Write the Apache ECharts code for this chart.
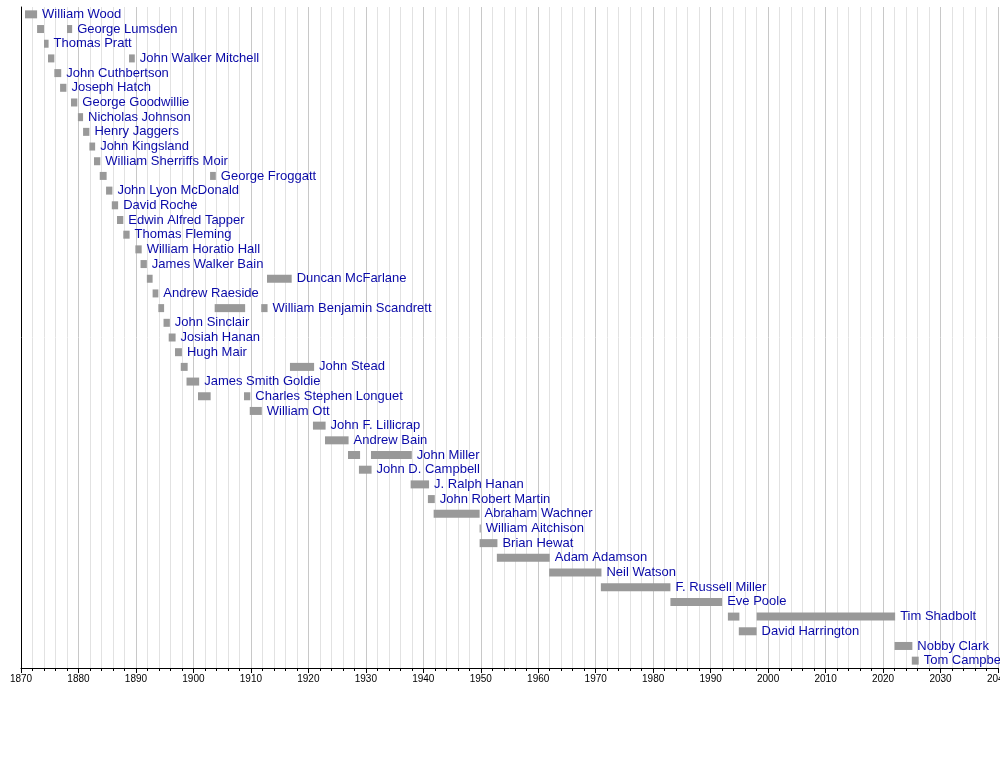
<!DOCTYPE html>
<html>
<head>
<meta charset="utf-8">
<script src="https://cdn.jsdelivr.net/npm/echarts@6/dist/echarts.min.js"></script>
<style>
  html, body { margin: 0; padding: 0; background: #fff; }
  #chart { width: 1000px; height: 770px; }
</style>
</head>
<body>
<div id="chart"></div>
<script>
// one row per line of the timeline, label drawn after the last term
const names = [
  'William Wood', 'George Lumsden', 'Thomas Pratt', 'John Walker Mitchell',
  'John Cuthbertson', 'Joseph Hatch', 'George Goodwillie', 'Nicholas Johnson',
  'Henry Jaggers', 'John Kingsland', 'William Sherriffs Moir', 'George Froggatt',
  'John Lyon McDonald', 'David Roche', 'Edwin Alfred Tapper', 'Thomas Fleming',
  'William Horatio Hall', 'James Walker Bain', 'Duncan McFarlane', 'Andrew Raeside',
  'William Benjamin Scandrett', 'John Sinclair', 'Josiah Hanan', 'Hugh Mair',
  'John Stead', 'James Smith Goldie', 'Charles Stephen Longuet', 'William Ott',
  'John F. Lillicrap', 'Andrew Bain', 'John Miller', 'John D. Campbell',
  'J. Ralph Hanan', 'John Robert Martin', 'Abraham Wachner', 'William Aitchison',
  'Brian Hewat', 'Adam Adamson', 'Neil Watson', 'F. Russell Miller',
  'Eve Poole', 'Tim Shadbolt', 'David Harrington', 'Nobby Clark', 'Tom Campbell'
];

// terms per row: [start, end] in years
const terms = [
  [[1870.7, 1872.8]],
  [[1872.8, 1874.0], [1878.0, 1878.9]],
  [[1874.0, 1874.8]],
  [[1874.7, 1875.8], [1888.8, 1889.8]],
  [[1875.8, 1877.0]],
  [[1876.8, 1877.9]],
  [[1878.7, 1879.8]],
  [[1879.9, 1880.8]],
  [[1880.8, 1881.9]],
  [[1881.9, 1882.9]],
  [[1882.7, 1883.8]],
  [[1883.7, 1884.9], [1902.9, 1903.9]],
  [[1884.8, 1885.9]],
  [[1885.8, 1886.9]],
  [[1886.7, 1887.8]],
  [[1887.8, 1888.9]],
  [[1889.9, 1891.0]],
  [[1890.8, 1891.9]],
  [[1891.9, 1892.9], [1912.8, 1917.1]],
  [[1892.9, 1893.9]],
  [[1893.9, 1894.9], [1903.7, 1909.0], [1911.8, 1912.9]],
  [[1894.8, 1895.9]],
  [[1895.7, 1896.9]],
  [[1896.8, 1898.0]],
  [[1897.8, 1899.0], [1916.8, 1921.0]],
  [[1898.8, 1901.0]],
  [[1900.8, 1903.0], [1908.8, 1909.9]],
  [[1909.8, 1911.9]],
  [[1920.8, 1923.0]],
  [[1922.9, 1927.0]],
  [[1926.9, 1929.0], [1930.9, 1938.0]],
  [[1928.8, 1931.0]],
  [[1937.8, 1941.0]],
  [[1940.8, 1942.0]],
  [[1941.8, 1949.8]],
  [[1949.8, 1950.0]],
  [[1949.8, 1952.9]],
  [[1952.8, 1962.0]],
  [[1961.9, 1971.0]],
  [[1970.9, 1983.0]],
  [[1983.0, 1992.0]],
  [[1993.0, 1995.0], [1998.0, 2022.1]],
  [[1994.9, 1998.0]],
  [[2022.0, 2025.1]],
  [[2025.0, 2026.2]]
];

const yearMin = 1870;
const yearMax = 2040;

const items = [];
terms.forEach(function (row, i) {
  row.forEach(function (t, j) {
    items.push({
      value: [t[0], t[1], i],
      label: j === row.length - 1 ? names[i] : ''
    });
  });
});

const chart = echarts.init(document.getElementById('chart'));

chart.setOption({
  animation: false,
  grid: { left: 21, right: 2, top: 7, bottom: 102, containLabel: false, outerBoundsMode: 'none' },
  xAxis: {
    type: 'value',
    min: yearMin,
    max: yearMax,
    interval: 10,
    axisLine: { show: true, onZero: false, lineStyle: { color: '#000' } },
    axisTick: { show: true, length: 5, lineStyle: { color: '#000' } },
    minorTick: { show: true, splitNumber: 5, length: 3, lineStyle: { color: '#000' } },
    axisLabel: {
      color: '#000', fontSize: 10, fontFamily: 'Liberation Sans', margin: 6,
      formatter: function (v) { return String(v); }
    },
    splitLine: { show: true, lineStyle: { color: '#c8c8c8', width: 1 } },
    minorSplitLine: { show: true, lineStyle: { color: '#e2e2e2', width: 1 } }
  },
  yAxis: {
    type: 'category',
    inverse: true,
    data: names,
    axisLine: { show: true, lineStyle: { color: '#000' } },
    axisTick: { show: false },
    axisLabel: { show: false },
    splitLine: { show: false }
  },
  series: [{
    type: 'custom',
    clip: false,
    encode: { x: [0, 1], y: 2 },
    data: items.map(function (d) { return d.value; }),
    renderItem: function (params, api) {
      const start = api.coord([api.value(0), api.value(2)]);
      const end = api.coord([api.value(1), api.value(2)]);
      const h = 8;
      const label = items[params.dataIndex].label;
      const children = [{
        type: 'rect',
        shape: { x: start[0], y: start[1] - h / 2, width: Math.max(end[0] - start[0], 1), height: h },
        style: { fill: '#999999' }
      }];
      if (label) {
        children.push({
          type: 'text',
          style: {
            text: label,
            x: end[0] + 5,
            y: start[1],
            fill: '#0a0aa8',
            font: '13px "Liberation Sans", Arial, sans-serif',
            verticalAlign: 'middle',
            align: 'left'
          }
        });
      }
      return { type: 'group', children: children };
    }
  }]
});
</script>
</body>
</html>
